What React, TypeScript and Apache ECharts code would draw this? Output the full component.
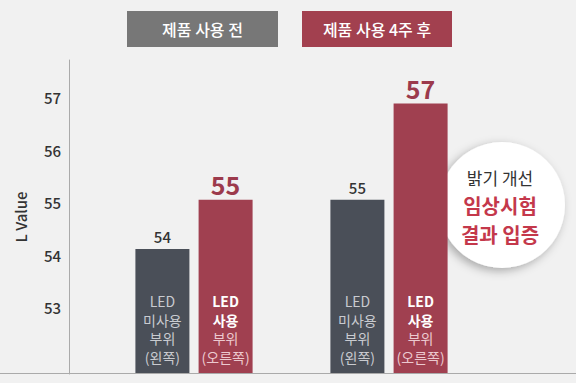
import React, { useEffect, useRef } from "react";
import * as echarts from "echarts";

// ---- data ----
const categories = ["제품 사용 전", "제품 사용 4주 후"];
const seriesNames = ["LED 미사용 부위 (왼쪽)", "LED 사용 부위 (오른쪽)"];
const unusedValues = [54.12, 55.06]; // bar heights as drawn
const usedValues = [55.06, 56.89];
const unusedLabels = ["54", "55"];
const usedLabels = ["55", "57"];
const unusedLines = ["LED", "미사용", "부위", "(왼쪽)"];
const usedLines = ["LED", "사용", "부위", "(오른쪽)"];
const yTicks = [53, 54, 55, 56, 57];
const badgeLines = ["밝기 개선", "임상시험", "결과 입증"];

const FONT = "'Noto Sans CJK KR', 'Noto Sans', sans-serif";

export default function App() {
  const ref = useRef<HTMLDivElement>(null);
  useEffect(() => {
    if (!ref.current) return;
    const chart = echarts.init(ref.current, null, { renderer: "svg" });
    const option: any = {
      animation: false,
      backgroundColor: "#f1f1f1",
      textStyle: { fontFamily: FONT },
      grid: { left: 96.5, right: 89.5, top: 60, bottom: 9 },
      xAxis: {
        type: "category",
        data: categories,
        axisLine: { show: false },
        axisTick: { show: false },
        axisLabel: { show: false },
        splitLine: { show: false },
      },
      yAxis: {
        type: "value",
        min: 51.74,
        max: 57.72,
        offset: 27.5,
        name: "L Value",
        nameLocation: "middle",
        nameRotate: 90,
        nameGap: 41,
        nameTextStyle: { fontFamily: FONT, fontSize: 15, fontWeight: 500, color: "#333" },
        axisLine: { show: true, lineStyle: { color: "#aaaaaa", width: 1 } },
        axisTick: { show: false },
        splitLine: { show: false },
        axisLabel: {
          customValues: yTicks,
          color: "#333",
          fontSize: 15,
          fontWeight: 500,
          margin: 8,
          fontFamily: FONT,
        },
      },
      series: [
        {
          name: seriesNames[0],
          type: "bar",
          stack: "unused",
          data: unusedValues,
          barWidth: 54,
          barGap: "17%",
          itemStyle: { color: "#4a4f58" },
          label: {
            show: true,
            position: "insideBottom",
            distance: 8,
            formatter: unusedLines.map((l) => `{a|${l}}`).join("\n"),
            rich: {
              a: { color: "#c9cbd0", fontSize: 14, lineHeight: 18.5, fontFamily: FONT },
            },
          },
        },
        {
          name: seriesNames[0] + " 값",
          type: "bar",
          stack: "unused",
          data: unusedValues.map(() => 0),
          barWidth: 54,
          barGap: "17%",
          itemStyle: { color: "transparent" },
          silent: true,
          label: {
            show: true,
            position: "top",
            distance: 5,
            formatter: (p: any) => unusedLabels[p.dataIndex],
            color: "#333",
            fontSize: 15,
            fontWeight: 500,
            fontFamily: FONT,
          },
        },
        {
          name: seriesNames[1],
          type: "bar",
          stack: "used",
          data: usedValues,
          barWidth: 54,
          barGap: "17%",
          itemStyle: { color: "#a04050" },
          label: {
            show: true,
            position: "insideBottom",
            distance: 8,
            formatter: usedLines
              .map((l, i) => (i < 2 ? `{b|${l}}` : `{c|${l}}`))
              .join("\n"),
            rich: {
              b: { color: "#ffffff", fontSize: 14, fontWeight: "bold", lineHeight: 18.5, fontFamily: FONT },
              c: { color: "#ecc9cf", fontSize: 14, lineHeight: 18.5, fontFamily: FONT },
            },
          },
        },
        {
          name: seriesNames[1] + " 값",
          type: "bar",
          stack: "used",
          data: usedValues.map(() => 0),
          barWidth: 54,
          barGap: "17%",
          itemStyle: { color: "transparent" },
          silent: true,
          label: {
            show: true,
            position: "top",
            distance: 3,
            formatter: (p: any) => usedLabels[p.dataIndex],
            color: "#9c3a4c",
            fontSize: 25,
            fontWeight: "bold",
            fontFamily: FONT,
          },
        },
      ],
      graphic: [
        {
          type: "line",
          shape: { x1: 0, y1: 373.5, x2: 576, y2: 373.5 },
          style: { stroke: "#aaaaaa", lineWidth: 1 },
          z: 10,
        },
        {
          type: "group",
          children: [
            { type: "rect", shape: { x: 127, y: 11, width: 151, height: 36 }, style: { fill: "#777777" } },
            {
              type: "text",
              x: 202.5,
              y: 29,
              style: {
                text: categories[0],
                fill: "#ffffff",
                fontSize: 16,
                fontWeight: 500,
                fontFamily: FONT,
                textAlign: "center",
                textVerticalAlign: "middle",
              },
            },
            { type: "rect", shape: { x: 302, y: 11, width: 150, height: 36 }, style: { fill: "#a2404f" } },
            {
              type: "text",
              x: 377,
              y: 29,
              style: {
                text: categories[1],
                fill: "#ffffff",
                fontSize: 16,
                fontWeight: 500,
                fontFamily: FONT,
                textAlign: "center",
                textVerticalAlign: "middle",
              },
            },
          ],
        },
        {
          type: "group",
          z: 20,
          children: [
            {
              type: "circle",
              shape: { cx: 502, cy: 205, r: 63 },
              style: {
                fill: "#ffffff",
                shadowBlur: 10,
                shadowColor: "rgba(0,0,0,0.3)",
                shadowOffsetX: -3,
                shadowOffsetY: 3,
              },
            },
            {
              type: "text",
              x: 500,
              y: 177,
              style: {
                text: badgeLines[0],
                fill: "#333333",
                fontSize: 17,
                fontFamily: FONT,
                textAlign: "center",
                textVerticalAlign: "middle",
              },
            },
            {
              type: "text",
              x: 500,
              y: 205,
              style: {
                text: badgeLines[1],
                fill: "#c4384b",
                fontSize: 20,
                fontWeight: "bold",
                fontFamily: FONT,
                textAlign: "center",
                textVerticalAlign: "middle",
              },
            },
            {
              type: "text",
              x: 500,
              y: 234,
              style: {
                text: badgeLines[2],
                fill: "#c4384b",
                fontSize: 20,
                fontWeight: "bold",
                fontFamily: FONT,
                textAlign: "center",
                textVerticalAlign: "middle",
              },
            },
          ],
        },
      ],
    };
    chart.setOption(option);
    return () => chart.dispose();
  }, []);
  return (
    <div
      ref={ref}
      style={{ position: "fixed", left: 0, top: 0, width: 576, height: 383 }}
    />
  );
}
